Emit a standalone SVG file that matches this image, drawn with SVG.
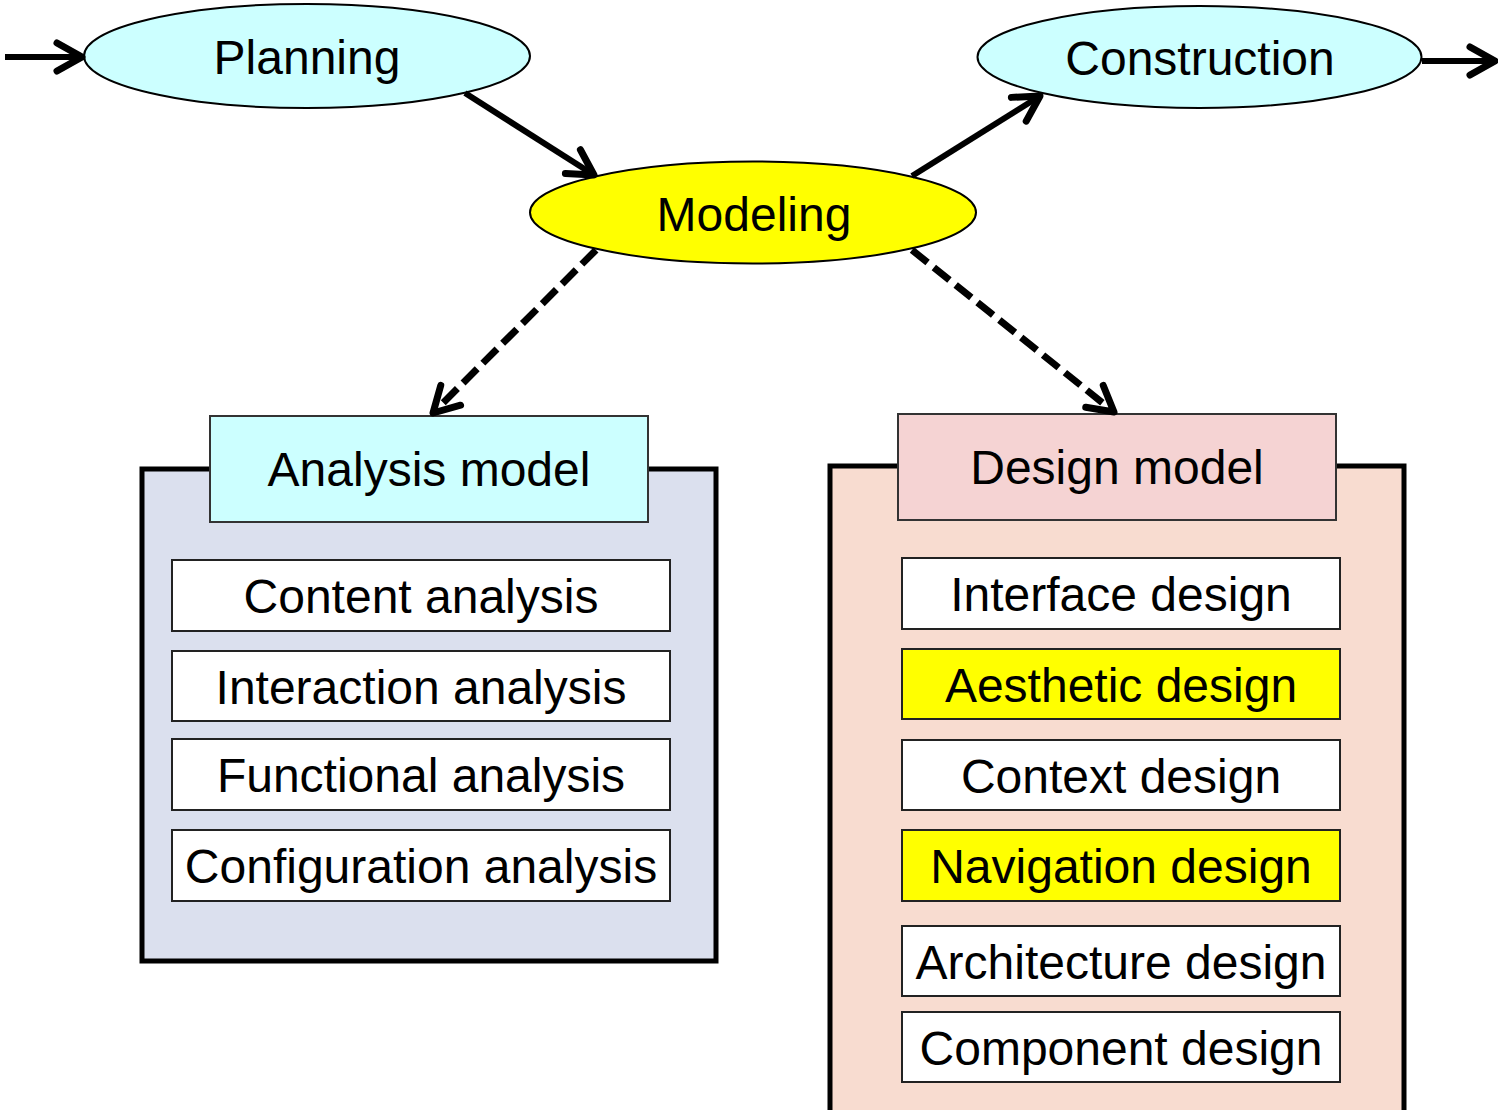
<svg xmlns="http://www.w3.org/2000/svg" width="1498" height="1110" viewBox="0 0 1498 1110">
<defs>
<style>
text{font-family:"Liberation Sans",Arial,sans-serif;font-size:48px;fill:#000;text-anchor:middle}
.ell{stroke:#000;stroke-width:2}
.outer{stroke:#000;stroke-width:5}
.hdr{stroke:#333;stroke-width:2}
.item{fill:#fff;stroke:#222;stroke-width:2}
.hi{fill:#ffff00}
.conn{stroke:#000;stroke-width:6;fill:none}
.dash{stroke-width:7;stroke-dasharray:20 8}
</style>
<marker id="ah" markerUnits="userSpaceOnUse" markerWidth="38" markerHeight="38" viewBox="0 0 38 38" refX="33" refY="19" orient="auto">
<path d="M8,5 L33,19 L8,33" fill="none" stroke="#000" stroke-width="7" stroke-linecap="round" stroke-linejoin="round"/>
</marker>
</defs>
<g id="analysis-model">
<rect class="outer" x="142" y="469" width="574" height="492" fill="#dbe0ee"/>
<rect class="hdr" x="210" y="416" width="438" height="106" fill="#ccffff"/>
<text x="429" y="486">Analysis model</text>
</g>
<g id="content-analysis"><rect class="item" x="172" y="560" width="498" height="71"/><text x="421" y="613">Content analysis</text></g>
<g id="interaction-analysis"><rect class="item" x="172" y="651" width="498" height="70"/><text x="421" y="704">Interaction analysis</text></g>
<g id="functional-analysis"><rect class="item" x="172" y="739" width="498" height="71"/><text x="421" y="792">Functional analysis</text></g>
<g id="configuration-analysis"><rect class="item" x="172" y="830" width="498" height="71"/><text x="421" y="883">Configuration analysis</text></g>
<g id="design-model">
<rect class="outer" x="830" y="466" width="574" height="660" fill="#f8dcd0"/>
<rect class="hdr" x="898" y="414" width="438" height="106" fill="#f5d3d3"/>
<text x="1117" y="484">Design model</text>
</g>
<g id="interface-design"><rect class="item" x="902" y="558" width="438" height="71"/><text x="1121" y="611">Interface design</text></g>
<g id="aesthetic-design"><rect class="item hi" x="902" y="649" width="438" height="70"/><text x="1121" y="702">Aesthetic design</text></g>
<g id="context-design"><rect class="item" x="902" y="740" width="438" height="70"/><text x="1121" y="793">Context design</text></g>
<g id="navigation-design"><rect class="item hi" x="902" y="830" width="438" height="71"/><text x="1121" y="883">Navigation design</text></g>
<g id="architecture-design"><rect class="item" x="902" y="926" width="438" height="70"/><text x="1121" y="979">Architecture design</text></g>
<g id="component-design"><rect class="item" x="902" y="1012" width="438" height="70"/><text x="1121" y="1065">Component design</text></g>
<g id="planning"><ellipse class="ell" cx="307" cy="56" rx="223" ry="52" fill="#ccffff"/><text x="307" y="74">Planning</text></g>
<g id="construction"><ellipse class="ell" cx="1199.5" cy="57" rx="222" ry="51" fill="#ccffff"/><text x="1200" y="75">Construction</text></g>
<g id="modeling"><ellipse class="ell" cx="753" cy="212.5" rx="223" ry="51" fill="#ffff00"/><text x="754" y="231">Modeling</text></g>
<g id="connectors">
<line class="conn" x1="5" y1="57" x2="82" y2="57" marker-end="url(#ah)"/>
<line class="conn" x1="1422" y1="61" x2="1495" y2="61" marker-end="url(#ah)"/>
<line class="conn" x1="465" y1="93" x2="594" y2="175" marker-end="url(#ah)"/>
<line class="conn" x1="912" y1="176" x2="1040" y2="96" marker-end="url(#ah)"/>
<line class="conn dash" x1="596" y1="250" x2="433" y2="413" marker-end="url(#ah)"/>
<line class="conn dash" x1="912" y1="250" x2="1114" y2="412" marker-end="url(#ah)"/>
</g>
</svg>
